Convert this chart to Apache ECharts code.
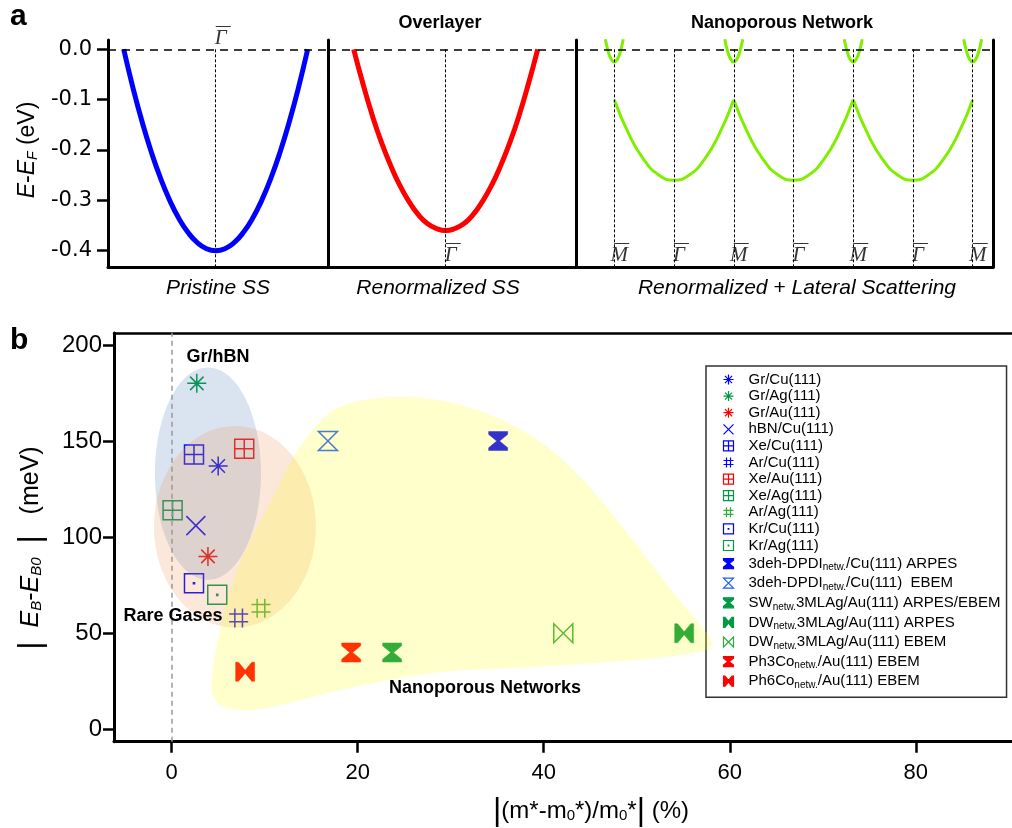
<!DOCTYPE html>
<html><head><meta charset="utf-8">
<script src="https://cdn.jsdelivr.net/npm/echarts@6/dist/echarts.min.js"></script>
<style>html,body{margin:0;padding:0;background:#fff}#c{width:1012px;height:828px}</style>
</head><body><div id="c"></div>
<script>
// ================= DATA =================
// Panel a — band dispersions [k (arb.), E-E_F (eV)]
const pristineSS = [[-1,0],[-0.9,-0.076],[-0.8,-0.144],[-0.7,-0.204],[-0.6,-0.256],[-0.5,-0.3],[-0.4,-0.336],[-0.3,-0.364],[-0.2,-0.384],[-0.1,-0.396],[0,-0.4],[0.1,-0.396],[0.2,-0.384],[0.3,-0.364],[0.4,-0.336],[0.5,-0.3],[0.6,-0.256],[0.7,-0.204],[0.8,-0.144],[0.9,-0.076],[1,0]];
const renormalizedSS = [[-1,0],[-0.9,-0.068],[-0.8,-0.13],[-0.7,-0.184],[-0.6,-0.23],[-0.5,-0.27],[-0.4,-0.302],[-0.3,-0.328],[-0.2,-0.346],[-0.1,-0.356],[0,-0.36],[0.1,-0.356],[0.2,-0.346],[0.3,-0.328],[0.4,-0.302],[0.5,-0.27],[0.6,-0.23],[0.7,-0.184],[0.8,-0.13],[0.9,-0.068],[1,0]];
const lateralArc1 = [[0,-0.1],[0.25,-0.17],[0.5,-0.22],[0.75,-0.25],[1,-0.26],[1.25,-0.25],[1.5,-0.22],[1.75,-0.17],[2,-0.1]];
const lateralArc2 = [[2,-0.1],[2.25,-0.17],[2.5,-0.22],[2.75,-0.25],[3,-0.26],[3.25,-0.25],[3.5,-0.22],[3.75,-0.17],[4,-0.1]];
const lateralArc3 = [[4,-0.1],[4.25,-0.17],[4.5,-0.22],[4.75,-0.25],[5,-0.26],[5.25,-0.25],[5.5,-0.22],[5.75,-0.17],[6,-0.1]];
const pocketM1 = [[-0.15,0.02],[-0.1,-0.005],[-0.05,-0.02],[0,-0.025],[0.05,-0.02],[0.1,-0.005],[0.15,0.02]];
const pocketM2 = [[1.85,0.02],[1.9,-0.005],[1.95,-0.02],[2,-0.025],[2.05,-0.02],[2.1,-0.005],[2.15,0.02]];
const pocketM3 = [[3.85,0.02],[3.9,-0.005],[3.95,-0.02],[4,-0.025],[4.05,-0.02],[4.1,-0.005],[4.15,0.02]];
const pocketM4 = [[5.85,0.02],[5.9,-0.005],[5.95,-0.02],[6,-0.025],[6.05,-0.02],[6.1,-0.005],[6.15,0.02]];
const panelATicks = [0, -0.1, -0.2, -0.3, -0.4];
const gammaPoint = [0];
const networkPoints = [0, 1, 2, 3, 4, 5, 6];
const networkLabels = ['M', 'Γ', 'M', 'Γ', 'M', 'Γ', 'M'];

// Panel b — |(m*-m0*)/m0*| (%) vs |E_B-E_B0| (meV)
const systems = ['Gr/Cu(111)','Gr/Ag(111)','Gr/Au(111)','hBN/Cu(111)','Xe/Cu(111)','Ar/Cu(111)','Xe/Au(111)','Xe/Ag(111)','Ar/Ag(111)','Kr/Cu(111)','Kr/Ag(111)',
  '3deh-DPDI{s|netw.}/Cu(111) ARPES','3deh-DPDI{s|netw.}/Cu(111)  EBEM','SW{s|netw.}3MLAg/Au(111) ARPES/EBEM','DW{s|netw.}3MLAg/Au(111) ARPES','DW{s|netw.}3MLAg/Au(111) EBEM','Ph3Co{s|netw.}/Au(111) EBEM','Ph6Co{s|netw.}/Au(111) EBEM'];
const massChange = [5.0, 2.7, 3.9, 2.6, 2.4, 7.2, 7.8, 0.1, 9.6, 2.4, 4.9, 35.1, 16.8, 23.7, 55.1, 42.1, 19.3, 7.9];
const energyShift = [137, 180, 90, 106, 143, 58, 146, 114, 63, 76, 70, 150, 150, 40, 50, 50, 40, 30];
const xTicksB = [0, 20, 40, 60, 80];
const yTicksB = [0, 50, 100, 150, 200];
// regions: [cx, cy, rx, ry] in data units; blob outline points
const grHbnRegion = [3.9, 133.0, 5.7, 55.2];
const rareGasRegion = [6.8, 105.4, 8.7, 52.4];
const nanoporousRegion = [[4.30,25.7],[5.19,51.7],[7.34,86.6],[10.89,120.9],[12.72,138.6],[15.18,155.8],[18.09,167.8],[24.54,173.0],[31.74,167.8],[38.83,152.2],[44.20,129.8],[49.58,98.5],[54.30,68.9],[57.52,50.2],[58.06,43.9],[56.77,40.3],[49.58,36.1],[38.83,32.5],[28.08,29.4],[18.09,20.5],[12.72,13.9],[8.42,10.1],[5.41,12.2],[4.44,17.9]];

// ================= STYLE / LAYOUT =================
const FONT = 'Liberation Sans, Arial, sans-serif';
const SERIF = 'Liberation Serif, Times New Roman, serif';
const BLUE = '#0000ff', LBLUE = '#1a5cff', GREEN = '#009944', LGREEN = '#2fae3c', RED = '#ff0000';
const SYM = {
  asterisk: 'path://M10,0V20M0,10H20M2.9,2.9L17.1,17.1M17.1,2.9L2.9,17.1',
  cross: 'path://M0,0L20,20M20,0L0,20',
  boxcross: 'path://M0,0H20V20H0ZM10,0V20M0,10H20',
  hash: 'path://M6,0V20M14,0V20M0,6H20M0,14H20',
  boxdot: 'path://M0,0H20V20H0ZM9.4,9.4H10.6V10.6H9.4Z',
  hourglass: 'path://M0,0H20V3L11.5,10L20,17V20H0V17L8.5,10L0,3Z',
  hourglassOpen: 'path://M0,0H20L0,20H20Z',
  bowtie: 'path://M0,0H3L10,8.5H10V11.5L3,20H0ZM20,0H17L10,8.5V11.5L17,20H20Z',
  bowtieOpen: 'path://M0,0V20L20,0V20Z'
};
const markerStyle = [
  ['asterisk', BLUE, false], ['asterisk', GREEN, false], ['asterisk', RED, false], ['cross', BLUE, false],
  ['boxcross', BLUE, false], ['hash', BLUE, false], ['boxcross', RED, false], ['boxcross', GREEN, false],
  ['hash', LGREEN, false], ['boxdot', BLUE, false], ['boxdot', GREEN, false],
  ['hourglass', BLUE, true], ['hourglassOpen', LBLUE, false], ['hourglass', GREEN, true],
  ['bowtie', GREEN, true], ['bowtieOpen', LGREEN, false], ['hourglass', RED, true], ['bowtie', RED, true]
];
const EMAX = 0.0185, EMIN = -0.4324;
const GAMMA_TOP_E = 0.027, LABEL_BOTTOM_E = -0.404;

const chart = echarts.init(document.getElementById('c'), null, {renderer: 'canvas'});

const thickLine = {show: true, onZero: false, lineStyle: {color: '#000', width: 3}};
function panelAX(grid, min, max) {
  return {type: 'value', gridIndex: grid, min, max, axisLine: thickLine, axisTick: {show: false}, axisLabel: {show: false}, splitLine: {show: false}};
}
function lineOnlyY(grid, pos) {
  return {type: 'value', gridIndex: grid, min: EMIN, max: EMAX, position: pos, axisLine: thickLine, axisTick: {show: false}, axisLabel: {show: false}, splitLine: {show: false}};
}
const zeroLine = {silent: true, symbol: 'none', label: {show: false}, lineStyle: {color: '#000', type: [8, 6], width: 1.5}, data: [{yAxis: 0}]};
function dotted(ks) {
  return {silent: true, symbol: 'none', label: {show: false}, lineStyle: {color: '#000', type: [3, 2], width: 1},
    data: ks.map(k => [{coord: [k, 0]}, {coord: [k, EMIN]}])};
}
function curve(data, xi, color, width, extra) {
  return Object.assign({type: 'line', xAxisIndex: xi, yAxisIndex: xi, data, smooth: true, symbol: 'none', silent: true,
    lineStyle: {color, width}, z: 3}, extra || {});
}
const symLabelRich = {
  o: {fontFamily: FONT, fontSize: 15, lineHeight: 5, padding: [0, 0, 0, 5], color: '#000'},
  g: {fontFamily: SERIF, fontStyle: 'italic', fontSize: 21, lineHeight: 19, color: '#000'}
};
function labelSeries(xi, yi, ks, texts, e) {
  return {type: 'scatter', xAxisIndex: xi, yAxisIndex: yi, silent: true, clip: false, symbolSize: 1,
    itemStyle: {color: 'rgba(0,0,0,0)'},
    data: ks.map((k, i) => ({value: [k, e], name: texts[i]})),
    label: {show: true, position: 'inside', offset: [5, 0], formatter: p => '{o|—}\n{g|' + p.name + '}', rich: symLabelRich}};
}

const series = [
  curve(pristineSS, 0, BLUE, 5, {markLine: zeroLine}),
  curve([[0, 0]], 0, 'transparent', 0, {markLine: dotted(gammaPoint)}),
  curve(renormalizedSS, 1, RED, 5, {markLine: zeroLine}),
  curve([[0, 0]], 1, 'transparent', 0, {markLine: dotted(gammaPoint)}),
  curve(lateralArc1, 2, '#80ee00', 3, {markLine: zeroLine}),
  curve(lateralArc2, 2, '#80ee00', 3),
  curve(lateralArc3, 2, '#80ee00', 3, {markLine: dotted(networkPoints)}),
  curve(pocketM1, 2, '#80ee00', 3),
  curve(pocketM2, 2, '#80ee00', 3),
  curve(pocketM3, 2, '#80ee00', 3),
  curve(pocketM4, 2, '#80ee00', 3),
  labelSeries(0, 0, gammaPoint, ['Γ'], GAMMA_TOP_E),
  labelSeries(1, 1, gammaPoint, ['Γ'], LABEL_BOTTOM_E),
  labelSeries(2, 2, networkPoints, networkLabels, LABEL_BOTTOM_E)
];

systems.forEach((name, i) => {
  const [sym, col, filled] = markerStyle[i];
  const s = {type: 'scatter', name, xAxisIndex: 3, yAxisIndex: 4, z: 2,
    symbol: SYM[sym], symbolKeepAspect: true, symbolSize: 19,
    itemStyle: {color: filled ? col : 'none', borderColor: col, borderWidth: filled ? 0.5 : 1.5, opacity: 1},
    data: [[massChange[i], energyShift[i]]]};
  if (i === 0) s.markLine = {silent: true, symbol: 'none', label: {show: false},
    lineStyle: {color: '#999', type: [5, 4], width: 1.5}, data: [{xAxis: 0}]};
  series.push(s);
});

function ellipseSeries(region, fill) {
  return {type: 'custom', xAxisIndex: 3, yAxisIndex: 4, z: 4, silent: true,
    data: [region],
    renderItem: (params, api) => {
      const c = api.coord([api.value(0), api.value(1)]);
      const s = api.size([api.value(2), api.value(3)]);
      return {type: 'ellipse', shape: {cx: c[0], cy: c[1], rx: s[0], ry: s[1]}, style: {fill}};
    }};
}
series.push(ellipseSeries(grHbnRegion, 'rgba(70,120,185,0.2)'));
series.push(ellipseSeries(rareGasRegion, 'rgba(240,140,70,0.2)'));
series.push({type: 'custom', xAxisIndex: 3, yAxisIndex: 4, z: 4, silent: true,
  data: [nanoporousRegion[0]],
  renderItem: (params, api) => ({type: 'polygon', shape: {points: nanoporousRegion.map(p => api.coord(p)), smooth: 0.35},
    style: {fill: 'rgba(255,255,0,0.2)'}})});

const legendRich = {s: {fontSize: 10, lineHeight: 10, padding: [8, 0, 0, 0], fontFamily: FONT, color: '#000'}};

const option = {
  animation: false,
  backgroundColor: '#fff',
  textStyle: {fontFamily: FONT},
  grid: [
    {left: 108, top: 40, width: 220, height: 227, outerBoundsMode: 'none', containLabel: false},
    {left: 328, top: 40, width: 248, height: 227, outerBoundsMode: 'none', containLabel: false},
    {left: 576, top: 40, width: 417, height: 227, outerBoundsMode: 'none', containLabel: false},
    {left: 114, top: 333, width: 906, height: 408.7, outerBoundsMode: 'none', containLabel: false}
  ],
  xAxis: [
    panelAX(0, -1.1707, 1.2207),
    panelAX(1, -1.2793, 1.4163),
    panelAX(2, -0.641, 6.34),
    {type: 'value', gridIndex: 3, min: -6.2, max: 91.2, position: 'bottom',
      axisLine: thickLine, splitLine: {show: false},
      axisTick: {customValues: xTicksB, length: 11, lineStyle: {color: '#000', width: 2.5}},
      axisLabel: {customValues: xTicksB, fontSize: 22, color: '#000', margin: 20, fontFamily: FONT}},
    {type: 'value', gridIndex: 3, min: -6.2, max: 91.2, position: 'top',
      axisLine: {show: true, onZero: false, lineStyle: {color: '#000', width: 2.5}}, axisTick: {show: false}, axisLabel: {show: false}, splitLine: {show: false}}
  ],
  yAxis: [
    {type: 'value', gridIndex: 0, min: EMIN, max: EMAX, axisLine: thickLine, splitLine: {show: false},
      axisTick: {customValues: panelATicks, length: 11, lineStyle: {color: '#000', width: 2.5}},
      axisLabel: {customValues: panelATicks, fontSize: 21, fontFamily: 'DejaVu Sans, sans-serif', color: '#000', margin: 16, formatter: v => (+v).toFixed(1)}},
    lineOnlyY(1, 'left'),
    lineOnlyY(2, 'left'),
    lineOnlyY(2, 'right'),
    {type: 'value', gridIndex: 3, min: -6.4, max: 206.2, position: 'left', axisLine: thickLine, splitLine: {show: false},
      axisTick: {customValues: yTicksB, length: 11, lineStyle: {color: '#000', width: 2.5}},
      axisLabel: {customValues: yTicksB, fontSize: 24, color: '#000', margin: 12}}
  ],
  legend: {
    data: systems, orient: 'vertical', left: 706, top: 366,
    backgroundColor: '#fff', borderColor: '#333', borderWidth: 1.5, borderRadius: 0,
    padding: [6, 6, 7, 15], itemWidth: 10, itemHeight: 10, itemGap: 1.6,
    itemStyle: {borderWidth: 1.2}, selectedMode: false,
    textStyle: {fontSize: 15, lineHeight: 15, color: '#000', fontFamily: FONT, padding: [0, 0, 0, 10], rich: legendRich}
  },
  graphic: [
    {type: 'text', x: 10, y: 17, z: 100, style: {text: 'a', font: 'bold 30px ' + FONT, fill: '#000', verticalAlign: 'middle'}},
    {type: 'text', x: 10, y: 341, z: 100, style: {text: 'b', font: 'bold 30px ' + FONT, fill: '#000', verticalAlign: 'middle'}},
    {type: 'text', x: 440, y: 23, z: 100, style: {text: 'Overlayer', font: 'bold 18px ' + FONT, fill: '#000', align: 'center', verticalAlign: 'middle'}},
    {type: 'text', x: 782, y: 23, z: 100, style: {text: 'Nanoporous Network', font: 'bold 18px ' + FONT, fill: '#000', align: 'center', verticalAlign: 'middle'}},
    {type: 'text', x: 218, y: 288, z: 100, style: {text: 'Pristine SS', font: 'italic 21px ' + FONT, fill: '#000', align: 'center', verticalAlign: 'middle'}},
    {type: 'text', x: 438, y: 288, z: 100, style: {text: 'Renormalized SS', font: 'italic 21px ' + FONT, fill: '#000', align: 'center', verticalAlign: 'middle'}},
    {type: 'text', x: 797, y: 288, z: 100, style: {text: 'Renormalized + Lateral Scattering', font: 'italic 21px ' + FONT, fill: '#000', align: 'center', verticalAlign: 'middle'}},
    {type: 'text', x: 218, y: 357, z: 100, style: {text: 'Gr/hBN', font: 'bold 18px ' + FONT, fill: '#000', align: 'center', verticalAlign: 'middle'}},
    {type: 'text', x: 173, y: 616, z: 100, style: {text: 'Rare Gases', font: 'bold 18px ' + FONT, fill: '#000', align: 'center', verticalAlign: 'middle'}},
    {type: 'text', x: 485, y: 688, z: 100, style: {text: 'Nanoporous Networks', font: 'bold 18px ' + FONT, fill: '#000', align: 'center', verticalAlign: 'middle'}},
    {type: 'text', x: 28, y: 150, rotation: Math.PI / 2, z: 100, style: {
      text: '{i|E}-{i|E}{s|F} (eV)', fill: '#000', align: 'center', verticalAlign: 'middle',
      rich: {i: {fontSize: 23, fontStyle: 'italic', fontFamily: FONT, lineHeight: 26}, s: {fontSize: 14, fontStyle: 'italic', fontFamily: FONT, lineHeight: 14, padding: [11, 0, 0, 0]}},
      fontSize: 23, fontFamily: FONT, lineHeight: 26}},
    {type: 'text', x: 31, y: 548, rotation: Math.PI / 2, z: 100, style: {
      text: '{b||}  {i|E}{s|B}-{i|E}{s|B0}  {b||}   (meV)', fill: '#000', align: 'center', verticalAlign: 'middle',
      rich: {i: {fontSize: 25, fontStyle: 'italic', fontFamily: FONT, lineHeight: 28}, s: {fontSize: 15, fontStyle: 'italic', fontFamily: FONT, lineHeight: 15, padding: [12, 0, 0, 0]}, b: {fontSize: 32, fontFamily: FONT, lineHeight: 32}},
      fontSize: 25, fontFamily: FONT, lineHeight: 28}},
    {type: 'text', x: 591, y: 811, z: 100, style: {
      text: '{b||}(m*-m{s|0}*)/m{s|0}*{b||} (%)', fill: '#000', align: 'center', verticalAlign: 'middle',
      rich: {s: {fontSize: 15, fontFamily: FONT, lineHeight: 15, padding: [10, 0, 0, 0]}, b: {fontSize: 32, fontFamily: FONT, lineHeight: 32}},
      fontSize: 24, fontFamily: FONT, lineHeight: 27}}
  ],
  series
};
chart.setOption(option);
</script></body></html>
